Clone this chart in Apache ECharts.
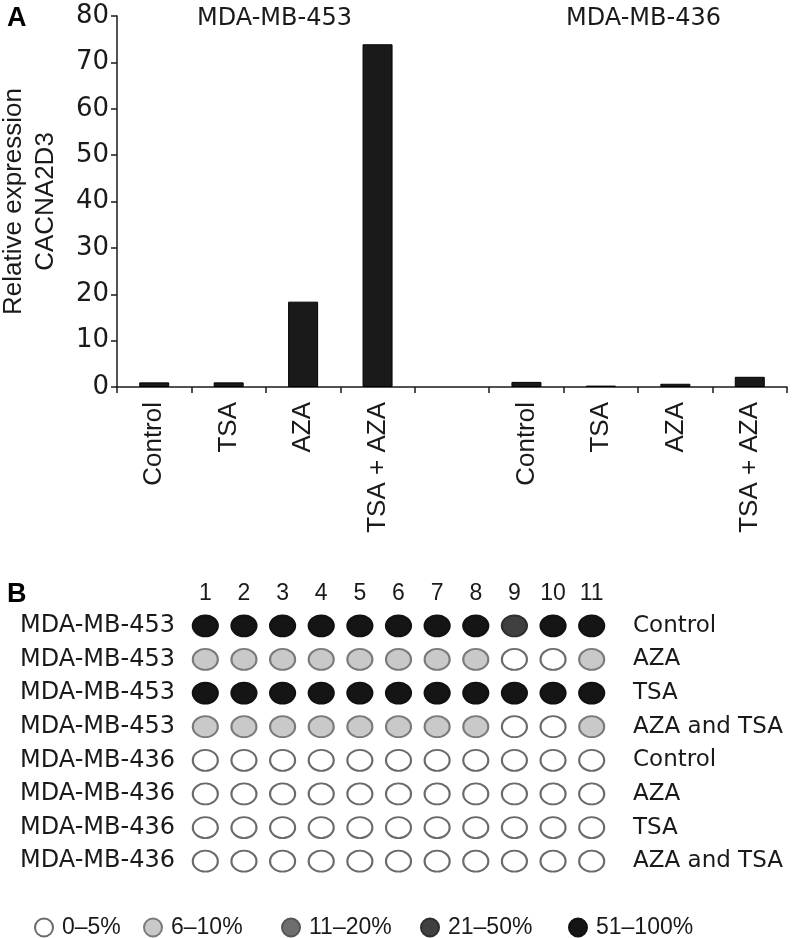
<!DOCTYPE html>
<html><head><meta charset="utf-8">
<script src="https://cdn.jsdelivr.net/npm/echarts@6/dist/echarts.min.js"></script>
<style>html,body{margin:0;padding:0;background:#fff}#c{width:794px;height:938px}</style>
</head><body><div id="c"></div>
<script>
// ---- Panel A data ----
const treatments453 = ['Control', 'TSA', 'AZA', 'TSA + AZA'];
const expr453 = [1.0, 1.0, 18.4, 73.9];
const treatments436 = ['Control', 'TSA', 'AZA', 'TSA + AZA'];
const expr436 = [1.1, 0.3, 0.7, 2.2];
const yMin = 0, yMax = 80, yStep = 10;
const groupTitles = ['MDA-MB-453', 'MDA-MB-436'];
const yName = 'Relative expression\nCACNA2D3';

// ---- Panel B data ----
const columnLabels = ['1', '2', '3', '4', '5', '6', '7', '8', '9', '10', '11'];
const rowLines = ['MDA-MB-453', 'MDA-MB-453', 'MDA-MB-453', 'MDA-MB-453',
                  'MDA-MB-436', 'MDA-MB-436', 'MDA-MB-436', 'MDA-MB-436'];
const rowTreatments = ['Control', 'AZA', 'TSA', 'AZA and TSA', 'Control', 'AZA', 'TSA', 'AZA and TSA'];
const levelNames = ['0–5%', '6–10%', '11–20%', '21–50%', '51–100%'];
// methylation level index (0..4 -> levelNames) per row, per column
const row1 = [4, 4, 4, 4, 4, 4, 4, 4, 3, 4, 4];
const row2 = [1, 1, 1, 1, 1, 1, 1, 1, 0, 0, 1];
const row3 = [4, 4, 4, 4, 4, 4, 4, 4, 4, 4, 4];
const row4 = [1, 1, 1, 1, 1, 1, 1, 1, 0, 0, 1];
const row5 = [0, 0, 0, 0, 0, 0, 0, 0, 0, 0, 0];
const row6 = [0, 0, 0, 0, 0, 0, 0, 0, 0, 0, 0];
const row7 = [0, 0, 0, 0, 0, 0, 0, 0, 0, 0, 0];
const row8 = [0, 0, 0, 0, 0, 0, 0, 0, 0, 0, 0];
const methylation = [row1, row2, row3, row4, row5, row6, row7, row8];

// ---- styles ----
const levelFill = ['#ffffff', '#c9c9c9', '#6e6e6e', '#404040', '#151515'];
const levelBorder = ['#6a6a6a', '#7a7a7a', '#555555', '#2e2e2e', '#111111'];
const H = 'DejaVu Sans';
const V = 'Liberation Sans';
const ink = '#1a1a1a';

// build bar categories/values
const barCats = [...treatments453, ' ', ...treatments436];
const barVals = [...expr453, '-', ...expr436];

// build scatter series per level
const levelData = levelNames.map(() => []);
methylation.forEach((row, r) => row.forEach((lv, c) => levelData[lv].push([c, r])));

const scatterSeries = levelNames.map((name, i) => ({
  type: 'scatter', name: name, xAxisIndex: 1, yAxisIndex: 1,
  data: levelData[i], symbol: 'circle', symbolSize: [25, 21],
  itemStyle: { color: levelFill[i], borderColor: levelBorder[i], borderWidth: 2, opacity: 1 },
  emphasis: { disabled: true }, silent: true
}));

const legendLefts = [29, 138, 276, 415, 563];
const legends = levelNames.map((name, i) => ({
  data: [name], left: legendLefts[i], top: 911, orient: 'horizontal',
  icon: 'circle', itemWidth: 18, itemHeight: 18, selectedMode: false,
  textStyle: { fontFamily: V, fontSize: 23, color: ink, padding: [0, 0, 0, 4] }
}));

const chart = echarts.init(document.getElementById('c'), null, { renderer: 'canvas' });
chart.setOption({
  backgroundColor: '#fff',
  animation: false,
  title: [
    { text: 'A', left: 2, top: 0, textStyle: { fontFamily: V, fontWeight: 'bold', fontSize: 27, color: '#000' } },
    { text: groupTitles[0], left: 192, top: 2, textStyle: { fontFamily: H, fontWeight: 'normal', fontSize: 24, color: ink } },
    { text: groupTitles[1], left: 561, top: 2, textStyle: { fontFamily: H, fontWeight: 'normal', fontSize: 24, color: ink } },
    { text: 'B', left: 2, top: 576, textStyle: { fontFamily: V, fontWeight: 'bold', fontSize: 27, color: '#000' } }
  ],
  legend: legends,
  grid: [
    { left: 117, top: 16, width: 670, height: 371, containLabel: false, outerBoundsMode: 'none' },
    { left: 186, top: 609, width: 425, height: 269, containLabel: false, outerBoundsMode: 'none' }
  ],
  xAxis: [
    {
      type: 'category', gridIndex: 0, data: barCats,
      axisLine: { show: true, lineStyle: { color: ink, width: 1.5 } },
      axisTick: { show: true, length: 6, lineStyle: { color: ink, width: 1.5 } },
      axisLabel: { rotate: 90, interval: 0, margin: 15, fontFamily: V, fontSize: 26, color: ink },
      splitLine: { show: false }
    },
    {
      type: 'category', gridIndex: 1, data: columnLabels, position: 'top',
      axisLine: { show: false }, axisTick: { show: false }, splitLine: { show: false },
      axisLabel: { interval: 0, margin: 4, fontFamily: V, fontSize: 23, color: ink }
    }
  ],
  yAxis: [
    {
      type: 'value', gridIndex: 0, min: yMin, max: yMax, interval: yStep,
      name: yName, nameLocation: 'middle', nameRotate: 90, nameGap: 55,
      nameTextStyle: { fontFamily: V, fontSize: 26, color: ink, lineHeight: 32, align: 'center' },
      axisLine: { show: true, lineStyle: { color: ink, width: 1.5 } },
      axisTick: { show: true, length: 6, lineStyle: { color: ink, width: 1.5 } },
      axisLabel: { margin: 8, fontFamily: H, fontSize: 26, color: ink },
      splitLine: { show: false }
    },
    {
      type: 'category', gridIndex: 1, inverse: true, position: 'left',
      data: rowLines.map((_, i) => String(i)),
      axisLine: { show: false }, axisTick: { show: false }, splitLine: { show: false },
      axisLabel: { interval: 0, margin: 11, fontFamily: H, fontSize: 24, color: ink,
        formatter: (v, i) => rowLines[i] }
    },
    {
      type: 'category', gridIndex: 1, inverse: true, position: 'right',
      data: rowTreatments.map((_, i) => String(i)),
      axisLine: { show: false }, axisTick: { show: false }, splitLine: { show: false },
      axisLabel: { interval: 0, margin: 22, fontFamily: H, fontSize: 23, color: ink,
        formatter: (v, i) => rowTreatments[i] }
    }
  ],
  series: [
    {
      type: 'bar', xAxisIndex: 0, yAxisIndex: 0, data: barVals, barWidth: 30,
      itemStyle: { color: '#1a1a1a', borderColor: '#000', borderWidth: 1 },
      silent: true
    },
    ...scatterSeries
  ]
});
</script>
</body></html>
